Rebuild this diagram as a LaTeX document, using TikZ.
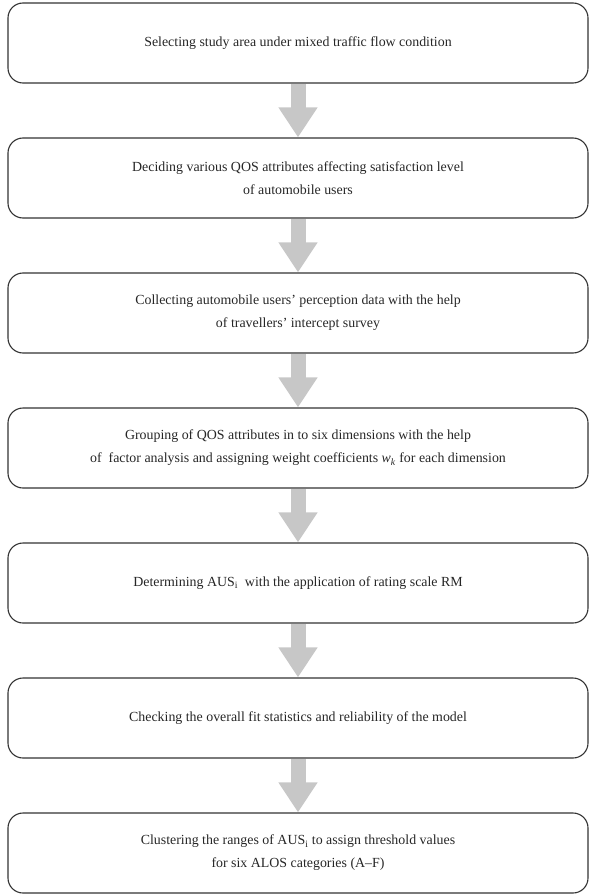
\documentclass[tikz,border=0pt]{standalone}
\usepackage{fontspec}
\setmainfont{Liberation Serif}
\usetikzlibrary{arrows.meta, backgrounds}

\begin{document}
\begin{tikzpicture}[x=1pt, y=-1pt,
  stepbox/.style={draw=black!80, line width=1.1pt, rounded corners=15pt,
    minimum width=580pt, minimum height=80pt, inner sep=0pt, align=center,
    text=black!85, font=\fontsize{13.9}{23}\selectfont},
  flow/.style={draw=black!22, line width=15pt,
    -{Triangle[width=37pt, length=30pt]}}]

  \useasboundingbox (0,0) rectangle (589,896);

  % seven steps, one under the other, 135pt apart
  \node[stepbox] (s1) at (298, 43)
    {Selecting study area under mixed traffic flow condition};
  \node[stepbox] (s2) at (298,178)
    {Deciding various QOS attributes affecting satisfaction level\\
     of automobile users};
  \node[stepbox] (s3) at (298,313)
    {Collecting automobile users' perception data with the help\\
     of travellers' intercept survey};
  \node[stepbox] (s4) at (298,448)
    {Grouping of QOS attributes in to six dimensions with the help\\
     of\ \ factor analysis and assigning weight coefficients
     \textit{w}\textsubscript{\textit{k}} for each dimension};
  \node[stepbox] (s5) at (298,583)
    {Determining AUS\textsubscript{i}\ \ with the application of rating scale RM};
  \node[stepbox] (s6) at (298,718)
    {Checking the overall fit statistics and reliability of the model};
  \node[stepbox] (s7) at (298,853)
    {Clustering the ranges of AUS\textsubscript{i} to assign threshold values\\
     for six ALOS categories (A--F)};

  % grey block arrows sit behind the box borders
  \begin{scope}[on background layer]
    \foreach \a/\b in {s1/s2, s2/s3, s3/s4, s4/s5, s5/s6, s6/s7}
      \draw[flow] (\a.south) -- (\b.north);
  \end{scope}
\end{tikzpicture}
\end{document}
